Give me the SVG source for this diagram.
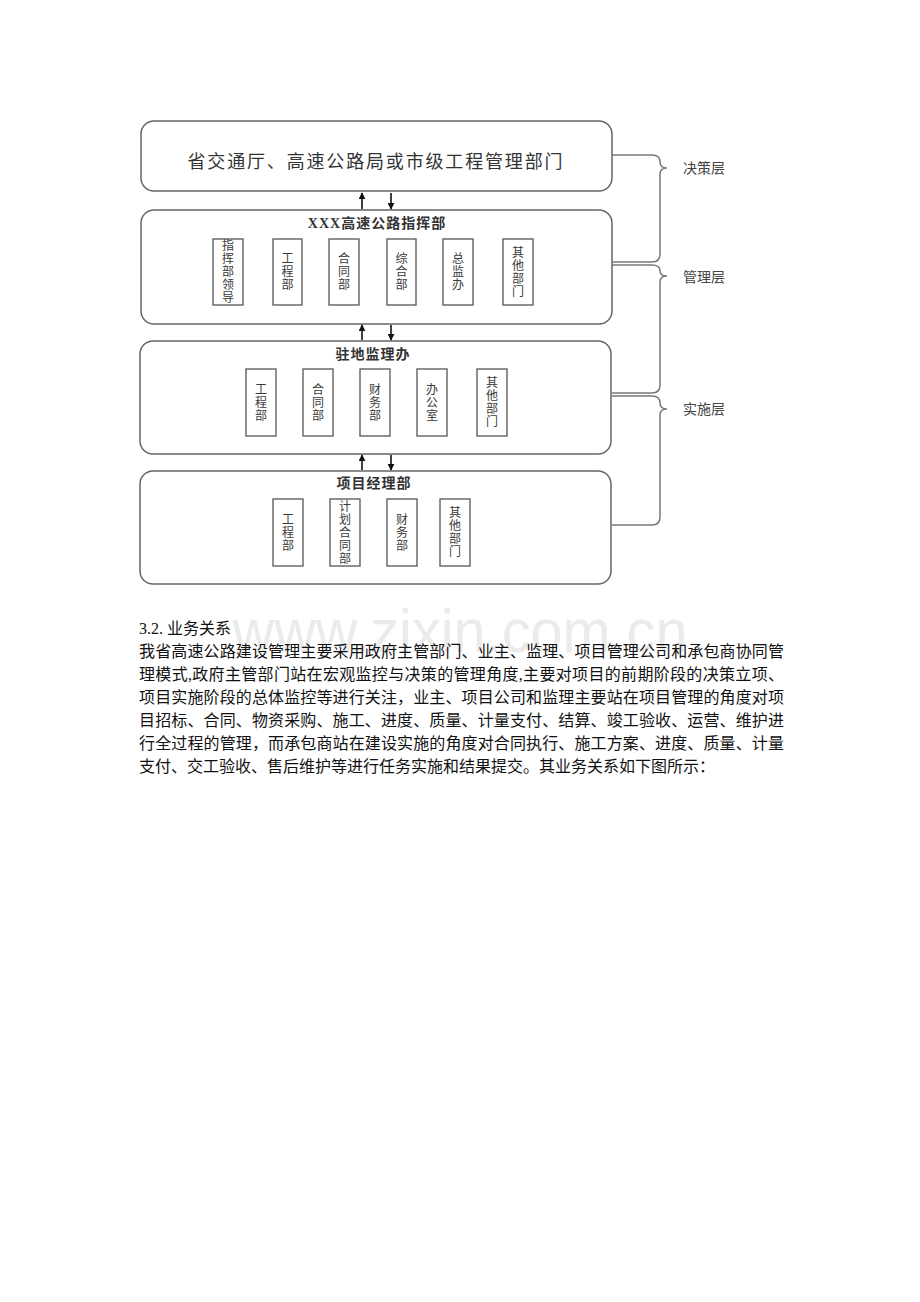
<svg xmlns="http://www.w3.org/2000/svg" width="920" height="1302" viewBox="0 0 920 1302">
<defs>
<style>
.big{fill:#fff;stroke:#666;stroke-width:1.5}
.sub{fill:#fff;stroke:#555;stroke-width:1.3}
.cjk{font-family:"Liberation Serif","Noto Sans CJK SC",serif;}
.t{fill:#3a3a3a;font-size:12px;text-anchor:middle;dominant-baseline:central}
.title{fill:#333;font-size:14px;font-weight:bold;text-anchor:middle;dominant-baseline:central;letter-spacing:1px}
.lbl{fill:#444;font-size:14px;dominant-baseline:central}
.body{fill:#111;font-size:16px}
.brace{fill:none;stroke:#7a7a7a;stroke-width:1.5}
.arr{stroke:#111;stroke-width:1.6}
</style>
<marker id="ah" viewBox="0 0 10 10" refX="9" refY="5" markerWidth="7" markerHeight="7" orient="auto" markerUnits="userSpaceOnUse">
<path d="M0,0 L10,5 L0,10 z" fill="#111"/>
</marker>
</defs>
<rect width="920" height="1302" fill="#fff"/>

<text x="460" y="652" font-family="Liberation Sans, Arial, sans-serif" font-size="62" fill="#ebebeb" text-anchor="middle" textLength="455" lengthAdjust="spacingAndGlyphs">www.zixin.com.cn</text>

<g id="n1">
<rect class="big" x="141" y="121" width="471" height="70" rx="13"/>
<text class="cjk" x="375" y="162" font-size="18" fill="#333" text-anchor="middle" dominant-baseline="central" textLength="375" lengthAdjust="spacing">省交通厅、高速公路局或市级工程管理部门</text>
</g>

<g id="n2">
<rect class="big" x="141" y="210" width="471" height="114" rx="13"/>
<text class="cjk title" x="377" y="223">XXX高速公路指挥部</text>
<rect class="sub" x="213" y="239" width="30" height="66"/>
<text class="cjk t"><tspan x="228" y="246">指</tspan><tspan x="228" y="259">挥</tspan><tspan x="228" y="272">部</tspan><tspan x="228" y="285">领</tspan><tspan x="228" y="298">导</tspan></text>
<rect class="sub" x="273" y="239" width="29" height="66"/>
<text class="cjk t"><tspan x="287.5" y="259">工</tspan><tspan x="287.5" y="272">程</tspan><tspan x="287.5" y="285">部</tspan></text>
<rect class="sub" x="329" y="239" width="30" height="66"/>
<text class="cjk t"><tspan x="344" y="259">合</tspan><tspan x="344" y="272">同</tspan><tspan x="344" y="285">部</tspan></text>
<rect class="sub" x="387" y="239" width="29" height="66"/>
<text class="cjk t"><tspan x="401.5" y="259">综</tspan><tspan x="401.5" y="272">合</tspan><tspan x="401.5" y="285">部</tspan></text>
<rect class="sub" x="443" y="239" width="30" height="66"/>
<text class="cjk t"><tspan x="458" y="259">总</tspan><tspan x="458" y="272">监</tspan><tspan x="458" y="285">办</tspan></text>
<rect class="sub" x="503" y="239" width="30" height="66"/>
<text class="cjk t"><tspan x="518" y="252.5">其</tspan><tspan x="518" y="265.5">他</tspan><tspan x="518" y="278.5">部</tspan><tspan x="518" y="291.5">门</tspan></text>
</g>

<g id="n3">
<rect class="big" x="140" y="341" width="471" height="113" rx="13"/>
<text class="cjk title" x="373" y="354">驻地监理办</text>
<rect class="sub" x="246" y="369" width="30" height="67"/>
<text class="cjk t"><tspan x="261" y="389.5">工</tspan><tspan x="261" y="402.5">程</tspan><tspan x="261" y="415.5">部</tspan></text>
<rect class="sub" x="303" y="369" width="30" height="67"/>
<text class="cjk t"><tspan x="318" y="389.5">合</tspan><tspan x="318" y="402.5">同</tspan><tspan x="318" y="415.5">部</tspan></text>
<rect class="sub" x="360" y="369" width="30" height="67"/>
<text class="cjk t"><tspan x="375" y="389.5">财</tspan><tspan x="375" y="402.5">务</tspan><tspan x="375" y="415.5">部</tspan></text>
<rect class="sub" x="417" y="369" width="30" height="67"/>
<text class="cjk t"><tspan x="432" y="389.5">办</tspan><tspan x="432" y="402.5">公</tspan><tspan x="432" y="415.5">室</tspan></text>
<rect class="sub" x="477" y="369" width="30" height="67"/>
<text class="cjk t"><tspan x="492" y="383">其</tspan><tspan x="492" y="396">他</tspan><tspan x="492" y="409">部</tspan><tspan x="492" y="422">门</tspan></text>
</g>

<g id="n4">
<rect class="big" x="140" y="471" width="471" height="113" rx="13"/>
<text class="cjk title" x="374" y="483">项目经理部</text>
<rect class="sub" x="273" y="499" width="30" height="67"/>
<text class="cjk t"><tspan x="288" y="519.5">工</tspan><tspan x="288" y="532.5">程</tspan><tspan x="288" y="545.5">部</tspan></text>
<rect class="sub" x="330" y="499" width="30" height="67"/>
<text class="cjk t"><tspan x="345" y="506.5">计</tspan><tspan x="345" y="519.5">划</tspan><tspan x="345" y="532.5">合</tspan><tspan x="345" y="545.5">同</tspan><tspan x="345" y="558.5">部</tspan></text>
<rect class="sub" x="387" y="499" width="30" height="67"/>
<text class="cjk t"><tspan x="402" y="519.5">财</tspan><tspan x="402" y="532.5">务</tspan><tspan x="402" y="545.5">部</tspan></text>
<rect class="sub" x="440" y="499" width="30" height="67"/>
<text class="cjk t"><tspan x="455" y="513">其</tspan><tspan x="455" y="526">他</tspan><tspan x="455" y="539">部</tspan><tspan x="455" y="552">门</tspan></text>
</g>

<g id="layers">
<text class="cjk lbl" x="683" y="168">决策层</text>
<text class="cjk lbl" x="683" y="277">管理层</text>
<text class="cjk lbl" x="683" y="409">实施层</text>
</g>

<g id="connectors">
<line class="arr" x1="362" y1="209" x2="362" y2="193" marker-end="url(#ah)"/>
<line class="arr" x1="391" y1="193" x2="391" y2="209" marker-end="url(#ah)"/>
<line class="arr" x1="362" y1="340" x2="362" y2="325" marker-end="url(#ah)"/>
<line class="arr" x1="391" y1="325" x2="391" y2="340" marker-end="url(#ah)"/>
<line class="arr" x1="362" y1="470" x2="362" y2="455" marker-end="url(#ah)"/>
<line class="arr" x1="391" y1="455" x2="391" y2="470" marker-end="url(#ah)"/>
<path class="brace" d="M612,155 H652 Q660,155 660,162 Q660,168 667,168 Q660,168 660,174 V254 Q660,262 652,262 H612"/>
<path class="brace" d="M612,265 H652 Q660,265 660,271 Q660,276 667,276 Q660,276 660,282 V385 Q660,393 652,393 H612"/>
<path class="brace" d="M612,396 H652 Q660,396 660,403 Q660,409 667,409 Q660,409 660,415 V517 Q660,525 652,525 H612"/>
</g>

<g id="body" class="cjk body">
<text x="139" y="634">3.2.  业务关系</text>
<text x="139" y="657" textLength="645" lengthAdjust="spacing">我省高速公路建设管理主要采用政府主管部门、业主、监理、项目管理公司和承包商协同管</text>
<text x="139" y="680" textLength="645" lengthAdjust="spacing">理模式,政府主管部门站在宏观监控与决策的管理角度,主要对项目的前期阶段的决策立项、</text>
<text x="139" y="703" textLength="645" lengthAdjust="spacing">项目实施阶段的总体监控等进行关注，业主、项目公司和监理主要站在项目管理的角度对项</text>
<text x="139" y="726" textLength="645" lengthAdjust="spacing">目招标、合同、物资采购、施工、进度、质量、计量支付、结算、竣工验收、运营、维护进</text>
<text x="139" y="749" textLength="645" lengthAdjust="spacing">行全过程的管理，而承包商站在建设实施的角度对合同执行、施工方案、进度、质量、计量</text>
<text x="139" y="772">支付、交工验收、售后维护等进行任务实施和结果提交。其业务关系如下图所示：</text>
</g>
</svg>
